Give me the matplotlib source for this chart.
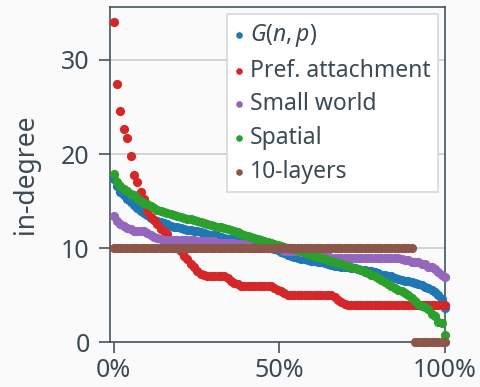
import numpy as np
import matplotlib
matplotlib.use("Agg")
import matplotlib.pyplot as plt
from matplotlib.ticker import PercentFormatter

# in-degree of each node, sorted high to low (100 nodes per network)
gnp = [17.3, 16.6, 16.0, 15.6, 15.2, 14.9, 14.6, 14.3, 14.0, 13.7,
       13.5, 13.2, 13.0, 12.9, 12.8, 12.7, 12.55, 12.4, 12.3, 12.2,
       12.1, 12.0, 11.9, 11.9, 11.8, 11.8, 11.7, 11.6, 11.5, 11.4,
       11.4, 11.3, 11.2, 11.1, 11.0, 11.0, 10.9, 10.9, 10.8, 10.7,
       10.6, 10.5, 10.4, 10.3, 10.2, 10.1, 10.0, 10.0, 9.9, 9.8,
       9.6, 9.5, 9.3, 9.2, 9.1, 9.0, 8.9, 8.8, 8.7, 8.6,
       8.6, 8.5, 8.5, 8.4, 8.3, 8.2, 8.1, 8.1, 8.0, 8.0,
       8.0, 7.9, 7.9, 7.8, 7.7, 7.7, 7.6, 7.6, 7.5, 7.4,
       7.2, 7.1, 7.0, 7.0, 6.8, 6.7, 6.6, 6.5, 6.5, 6.4,
       6.3, 6.2, 6.1, 5.9, 5.8, 5.6, 5.3, 5.0, 4.6, 3.6]
pref = [34, 27.4, 24.6, 22.7, 21.7, 19.8, 17.8, 17.0, 16.0, 15.2,
        14.0, 13.3, 13.0, 12.6, 12.0, 11.8, 11.5, 10.8, 10.5, 10.0,
        9.7, 9.2, 8.8, 8.3, 8.0, 7.6, 7.3, 7.1, 7.0, 7.0,
        7.0, 7.0, 7.0, 7.0, 6.8, 6.5, 6.3, 6.2, 6.0, 6.0,
        6.0, 6.0, 6.0, 6.0, 6.0, 6.0, 6.0, 6.0, 5.8, 5.6,
        5.4, 5.2, 5.0, 5.0, 5.0, 5.0, 5.0, 5.0, 5.0, 5.0,
        5.0, 5.0, 5.0, 5.0, 5.0, 5.0, 4.8, 4.5, 4.3, 4.1] + [4.0] * 30
small = [13.4, 12.9, 12.6, 12.4, 12.1, 12.0, 11.85, 11.85, 11.85, 11.85,
         11.6, 11.4, 11.2, 11.1, 11.0, 10.9, 10.9, 10.9, 10.9, 10.9,
         10.9, 10.9, 10.9, 10.9, 10.9, 10.8, 10.8, 10.8, 10.8, 10.8,
         10.8, 10.6, 10.6, 10.6, 10.6, 10.6, 10.6, 10.4, 10.4, 10.4,
         10.4, 10.0, 10.0, 10.0, 10.0, 10.0, 10.0, 10.0, 10.0, 10.0,
         10.0, 9.7, 9.7, 9.7, 9.7, 9.7, 9.6, 9.6, 9.5, 9.5,
         9.4, 9.3, 9.3, 9.3, 9.2, 9.0, 9.0, 9.0, 9.0, 9.0,
         9.0, 9.0, 9.0, 9.0, 9.0, 9.0, 9.0, 9.0, 9.0, 9.0,
         9.0, 9.0, 9.0, 9.0, 9.0, 9.0, 8.8, 8.7, 8.7, 8.5,
         8.5, 8.5, 8.3, 8.3, 8.0, 8.0, 7.8, 7.5, 7.2, 6.9]
spatial = [17.9, 17.0, 16.6, 16.3, 16.1, 15.8, 15.6, 15.3, 15.0, 14.8,
           14.7, 14.5, 14.3, 14.1, 13.9, 13.8, 13.7, 13.6, 13.5, 13.4,
           13.3, 13.2, 13.1, 13.1, 13.0, 12.9, 12.8, 12.7, 12.6, 12.5,
           12.4, 12.3, 12.2, 12.1, 12.0, 11.9, 11.8, 11.7, 11.5, 11.4,
           11.3, 11.2, 11.1, 11.0, 10.9, 10.8, 10.7, 10.5, 10.4, 10.3,
           10.2, 10.1, 10.0, 10.0, 9.9, 9.8, 9.7, 9.6, 9.4, 9.3,
           9.2, 9.1, 9.0, 8.85, 8.7, 8.6, 8.5, 8.4, 8.3, 8.2,
           8.1, 8.0, 7.9, 7.8, 7.7, 7.5, 7.4, 7.2, 7.0, 6.8,
           6.6, 6.4, 6.2, 6.0, 5.8, 5.6, 5.4, 5.2, 5.0, 4.7,
           4.4, 4.1, 3.9, 3.7, 3.5, 3.0, 2.8, 2.2, 2.0, 0.8]
layers = [10] * 90 + [0] * 10

series = [("$G(n,p)$", gnp, "tab:blue"),
          ("Pref. attachment", pref, "tab:red"),
          ("Small world", small, "tab:purple"),
          ("Spatial", spatial, "tab:green"),
          ("10-layers", layers, "tab:brown")]

txt = "#3b4a54"
plt.rcParams["font.family"] = ["Noto Sans", "DejaVu Sans"]
plt.rcParams["mathtext.fontset"] = "custom"
plt.rcParams["mathtext.rm"] = "Noto Sans"
plt.rcParams["mathtext.it"] = "Noto Sans:italic"
plt.rcParams["text.color"] = txt
plt.rcParams["axes.labelcolor"] = txt

fig = plt.figure(figsize=(4.81, 3.87), dpi=100, facecolor="#fafafa")
ax = fig.add_axes([0.2297, 0.1155, 0.6955, 0.866])
ax.set_facecolor("#fafafa")

for name, vals, col in series:
    vals = np.array(vals)
    rank = np.arange(len(vals)) / (len(vals) - 1)
    ax.scatter(rank, vals, s=44, color=col, linewidths=0, label=name,
               clip_on=False, zorder=3)

ax.set_xlim(-0.01, 1.0)
ax.set_ylim(0, 35.6)
ax.set_xticks([0, 0.5, 1.0])
ax.set_yticks([0, 10, 20, 30])
ax.xaxis.set_major_formatter(PercentFormatter(1.0, decimals=0))
ax.grid(axis="y", color="#d0d0d0", linewidth=1.3, zorder=0)
ax.set_axisbelow(True)
for sp in ax.spines.values():
    sp.set_color("#44545c")
    sp.set_linewidth(1.2)
ax.tick_params(axis="both", labelsize=18, colors="#44545c", labelcolor=txt,
               length=8, width=1.2)
ax.tick_params(axis="y", pad=7)
ax.tick_params(axis="x", pad=3)
ax.set_ylabel("in-degree", fontsize=19, labelpad=15)

leg = ax.legend(loc="upper right", fontsize=16.5, frameon=True, fancybox=False,
                markerscale=0.72, handlelength=0.4, handletextpad=0.25,
                labelspacing=0.42, borderpad=0.35, borderaxespad=0.3)
leg.get_frame().set_edgecolor("#d8d8d8")
leg.get_frame().set_facecolor("white")
leg.get_frame().set_alpha(1.0)
leg.get_frame().set_linewidth(1.2)
leg.set_zorder(5)

fig.savefig("out.png", dpi=100, facecolor=fig.get_facecolor())
